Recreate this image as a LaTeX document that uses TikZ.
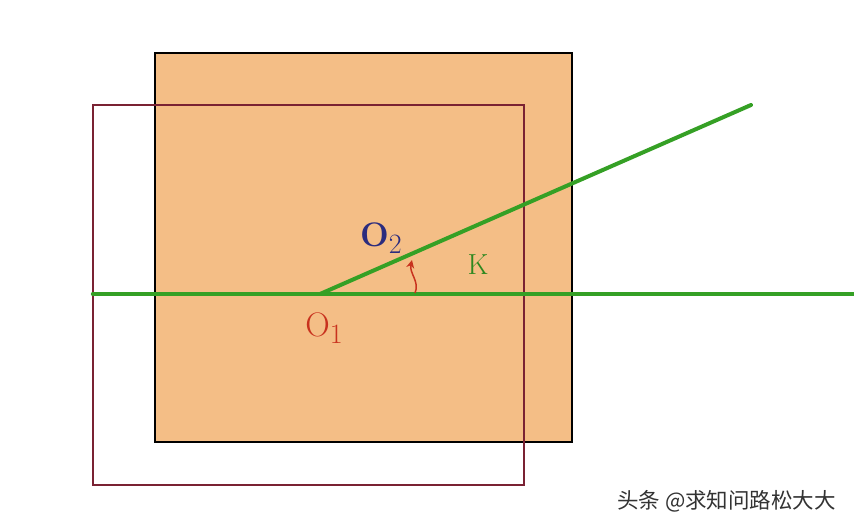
\documentclass[tikz,border=0pt]{standalone}
\usepackage{fontspec}
\newfontfamily\cjk{Noto Sans CJK SC}
\usetikzlibrary{arrows.meta}
\definecolor{plate}{HTML}{F4BE86}
\definecolor{frame}{HTML}{7A2233}
\definecolor{rod}{HTML}{35A025}
\definecolor{navy}{HTML}{2B2C7E}
\definecolor{redlab}{HTML}{C8321E}
\newcommand{\mysub}[1]{\raisebox{-7pt}{\fontsize{28}{30}\selectfont #1}}
\tikzset{
  rodline/.style={draw=rod, line width=4.4pt, line cap=round},
  lab/.style={font=\fontsize{34}{36}\selectfont, inner sep=0pt},
}
\begin{document}
\begin{tikzpicture}[x=1pt,y=-1pt]
\useasboundingbox (0,0) rectangle (854,528);
\fill[white] (0,0) rectangle (854,528);
% orange plate
\filldraw[fill=plate, draw=black, line width=1.6pt] (155,53) rectangle (572,442);
% red frame
\draw[frame, line width=1.4pt] (93,105) rectangle (524,485);
% lines
\coordinate (L) at (93,294);
\coordinate (R) at (854,294);
\coordinate (O1) at (320,294);
\coordinate (E) at (751,105);
\draw[rodline] (L) -- (R);
\draw[rodline, line width=4pt] (O1) -- (E);
% angle arrow
\coordinate (a0) at (415,293);
\coordinate (a1) at (412,260);
\draw[redlab, line width=1.5pt, -{Stealth[length=8pt,width=8pt]}] (a0) .. controls (420,282) and (409,273) .. (a1);
% labels
\node[lab, text=navy] (o2) at (381,238) {\textbf{O}\mysub{2}};
\node[lab, text=redlab] (o1) at (324,328) {O\mysub{1}};
\node[lab, text=rod!85!black, font=\fontsize{29}{31}\selectfont] (k) at (478,265) {K};
% watermark
\node[font=\cjk\fontsize{21.5}{23}\selectfont, text=black!80, anchor=west, inner sep=0pt] (wm) at (617,501) {头条 @求知问路松大大};
\end{tikzpicture}
\end{document}
